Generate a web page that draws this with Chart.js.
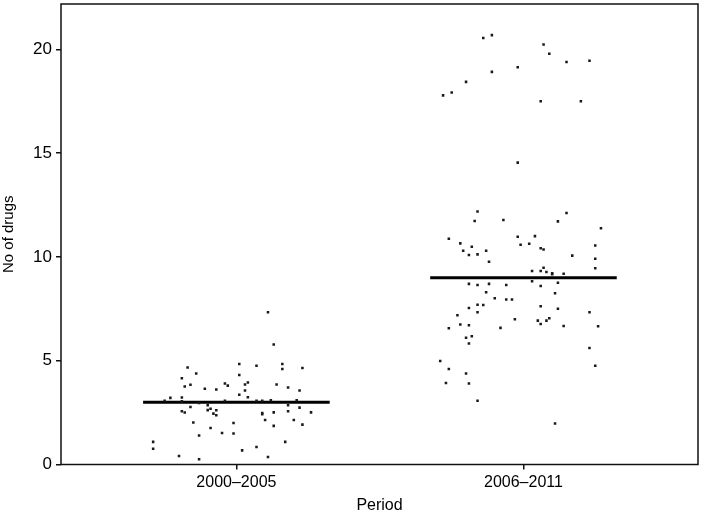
<!DOCTYPE html>
<html>
<head>
<meta charset="utf-8">
<script src="https://cdn.jsdelivr.net/npm/chart.js@4/dist/chart.umd.min.js"></script>
<style>
  html, body { margin: 0; padding: 0; background: #fff; }
  #wrap { width: 702px; height: 516px; }
</style>
</head>
<body>
<div id="wrap"><canvas id="scatter" width="702" height="516"></canvas></div>
<script>
// number of drugs per period (jittered dots + median)

var periods = ['2000–2005', '2006–2011'];
var medians = [3, 9];

// 2000-2005: horizontal jitter and value of each dot
var jitter1 = [0.11, 0.13, -0.17, -0.14, -0.19, -0.18, -0.16, -0.11, -0.07, -0.04, -0.03, 0.01, 0.01, 0.07, 0.03, 0.04, 0.03, 0.01, 0.04,
    0.16, 0.16, 0.23, 0.14, 0.18, 0.22, -0.23, -0.25, -0.19, -0.19, -0.04, 0.07, 0.09, 0.12, 0.21, -0.13, -0.16, -0.10, -0.10, -0.09,
    -0.19, -0.18, -0.07, -0.08, -0.07, 0.09, 0.09, 0.13, 0.18, 0.18, 0.22, 0.26, 0.10, 0.20, -0.15, -0.01, 0.13, 0.23, -0.09, -0.05,
    -0.01, -0.13, -0.29, -0.29, 0.17, 0.07, 0.02, -0.20, 0.11, -0.13];
var drugs1 = [7.33, 5.78, 4.67, 4.38, 4.15, 3.76, 3.84, 3.65, 3.61, 3.9, 3.8, 4.84, 4.31, 4.76, 3.85, 3.95, 3.56, 3.36, 3.24,
    4.84, 4.6, 4.65, 3.85, 3.71, 3.56, 3.21, 3.07, 3.23, 3.04, 3.07, 3.07, 3.07, 3.09, 3.09, 2.96, 2.77, 2.86, 2.62, 2.69,
    2.56, 2.5, 2.61, 2.45, 2.37, 2.48, 2.42, 2.51, 2.85, 2.56, 2.74, 2.51, 2.14, 2.14, 2.02, 2.0, 1.86, 1.92, 1.76, 1.52,
    1.49, 1.4, 1.09, 0.76, 1.09, 0.84, 0.68, 0.41, 0.36, 0.25];

// 2006-2011
var jitter2 = [-0.14, -0.11, 0.07, 0.09, 0.15, 0.23, -0.11, -0.02, -0.20, -0.25, -0.28, 0.06, 0.20, -0.02,
    -0.16, -0.17, -0.07, 0.15, 0.12, 0.27, -0.26, -0.22, -0.18, -0.21, -0.19, -0.16, -0.13, -0.12, -0.02, -0.01, 0.02, 0.04,
    0.06, 0.07, 0.17, 0.25, 0.25, 0.25, 0.03, 0.06, 0.07, 0.08, 0.10, 0.10, 0.14, 0.03, 0.12, -0.19, -0.16, -0.12, -0.06,
    0.06, -0.13, 0.11, -0.10, -0.06, -0.04, -0.16, -0.14, -0.19, 0.06, 0.12,
    -0.16, -0.23, -0.22, -0.19, -0.26, -0.03, -0.08, 0.05, 0.06, 0.08, 0.09, 0.14, 0.23, 0.26, -0.20, -0.18, -0.19, 0.23,
    0.25, -0.29, -0.26, -0.27, -0.20, -0.19, -0.16, 0.11];
var drugs2 = [20.54, 20.68, 20.23, 19.78, 19.39, 19.45, 18.91, 19.13, 18.43, 17.92, 17.78, 17.5, 17.5, 14.54,
    12.19, 11.73, 11.78, 12.11, 11.71, 11.38, 10.87, 10.65, 10.49, 10.3, 10.09, 10.12, 10.3, 9.77, 10.97, 10.58, 10.63, 11.0,
    10.42, 10.36, 10.06, 10.55, 9.91, 9.45, 9.32, 9.32, 9.48, 9.27, 9.21, 9.16, 9.19, 8.83, 8.75, 8.7, 8.65, 8.7, 8.65,
    8.6, 8.3, 8.25, 8.01, 7.95, 7.95, 7.69, 7.68, 7.54, 7.62, 7.5,
    7.33, 7.19, 6.74, 6.71, 6.56, 7.0, 6.58, 6.93, 6.77, 6.93, 7.04, 6.67, 7.33, 6.66, 6.1, 6.18, 5.83, 5.61,
    4.76, 4.99, 4.6, 3.93, 4.38, 3.9, 3.07, 1.97];

var yTicks = [0, 5, 10, 15, 20];

var halfWidth = 0.325;

function dots(pos, jit, vals) {
    return vals.map(function (v, i) { return { x: pos + jit[i], y: v }; });
}

var datasets = [
    { type: 'scatter', data: dots(1, jitter1, drugs1) },
    { type: 'scatter', data: dots(2, jitter2, drugs2) }
];
medians.forEach(function (m, i) {
    datasets.push({
        type: 'line',
        data: [{ x: i + 1 - halfWidth, y: m }, { x: i + 1 + halfWidth, y: m }],
        borderColor: '#000',
        borderWidth: 3,
        pointRadius: 0,
        fill: false
    });
});
datasets.forEach(function (d) {
    if (d.type === 'scatter') {
        d.pointStyle = 'rect';
        d.pointRadius = 1.8;
        d.backgroundColor = '#1a1a1a';
        d.borderColor = '#1a1a1a';
        d.borderWidth = 0;
    }
});

// box around the plot area
var frame = {
    id: 'frame',
    afterDraw: function (chart) {
        var a = chart.chartArea, c = chart.ctx;
        c.save();
        c.strokeStyle = '#111';
        c.lineWidth = 1.5;
        c.strokeRect(a.left, a.top, a.right - a.left, a.bottom - a.top);
        c.restore();
    }
};

var fontFam = "'Liberation Sans Narrow', 'Liberation Sans', Arial, sans-serif";

var ctx = document.getElementById('scatter').getContext('2d');
var chart = new Chart(ctx, {
    data: { datasets: datasets },
    options: {
        responsive: false,
        animation: false,
        layout: { padding: { top: -1.5, right: 1.5, left: 0, bottom: 0 } },
        plugins: { legend: { display: false }, tooltip: { enabled: false } },
        scales: {
            x: {
                type: 'linear',
                min: 0.389,
                max: 2.608,
                afterBuildTicks: function (s) { s.ticks = [{ value: 1 }, { value: 2 }]; },
                afterFit: function (s) { s.height = 51.5; s.paddingLeft = 0; s.paddingRight = 0; },
                ticks: {
                    color: '#000',
                    font: { family: fontFam, size: 16 },
                    padding: 3,
                    autoSkip: false,
                    maxRotation: 0,
                    callback: function (v) { return periods[v - 1]; }
                },
                grid: { drawOnChartArea: false, drawTicks: true, tickLength: 5, color: '#111', lineWidth: 1.5 },
                border: { display: false },
                title: { display: true, text: 'Period', color: '#000', font: { family: fontFam, size: 16 }, padding: { top: 0, bottom: 1 } }
            },
            y: {
                type: 'linear',
                min: 0,
                max: 22.18,
                afterBuildTicks: function (s) { s.ticks = yTicks.map(function (v) { return { value: v }; }); },
                afterFit: function (s) { s.width = 61; s.paddingTop = 0; s.paddingBottom = 0; },
                ticks: { color: '#000', font: { family: fontFam, size: 17 }, padding: 4 },
                grid: { drawOnChartArea: false, drawTicks: true, tickLength: 5, color: '#111', lineWidth: 1.5 },
                border: { display: false },
                title: { display: true, text: 'No of drugs', color: '#000', font: { family: fontFam, size: 15 }, padding: { top: 0, bottom: 0 } }
            }
        }
    },
    plugins: [frame]
});
</script>
</body>
</html>
